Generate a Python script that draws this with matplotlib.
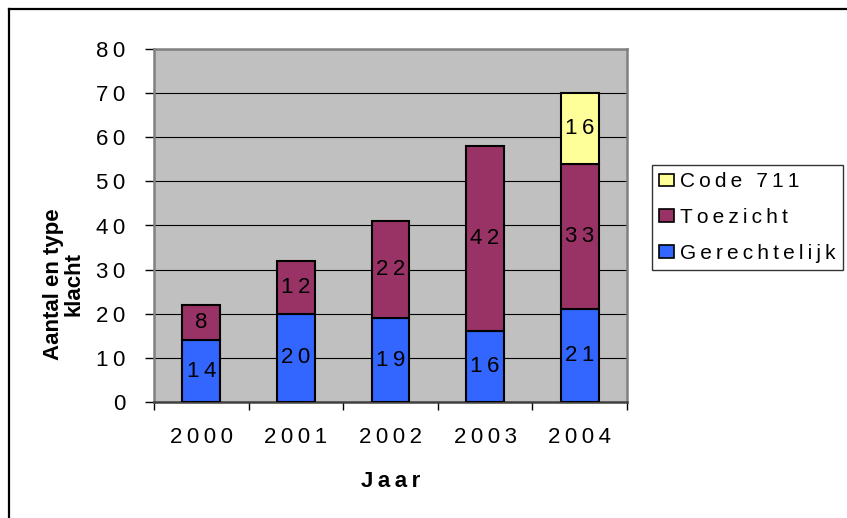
import matplotlib
matplotlib.use("Agg")
import matplotlib.pyplot as plt
from matplotlib.patches import Patch
from matplotlib.lines import Line2D
import numpy as np

plt.rcParams['font.family'] = ['Liberation Sans', 'DejaVu Sans']

years = ["2000", "2001", "2002", "2003", "2004"]
gerechtelijk = [14, 20, 19, 16, 21]
toezicht = [8, 12, 22, 42, 33]
code711 = [0, 0, 0, 0, 16]
series_names = ["Gerechtelijk", "Toezicht", "Code 711"]
colors = ["#3366FF", "#993366", "#FFFF99"]
yticks = [0, 10, 20, 30, 40, 50, 60, 70, 80]

THIN = "\u2009"

def spaced(s):
    return THIN.join(str(s))

W, H = 847, 518
fig = plt.figure(figsize=(W / 100, H / 100), dpi=100)
ax = fig.add_axes([154 / W, 1 - 402 / H, (627 - 154) / W, (402 - 49) / H])
ax.set_facecolor("#C0C0C0")

x = np.arange(len(years))
width = 0.4
fs = 16

bottom = np.zeros(len(years))
for vals, col in zip([gerechtelijk, toezicht, code711], colors):
    vals = np.array(vals, dtype=float)
    mask = vals > 0
    ax.bar(x[mask], vals[mask], width, bottom=bottom[mask], color=col,
           edgecolor="black", linewidth=1.5, zorder=3)
    for xi, v, b in zip(x[mask], vals[mask], bottom[mask]):
        ax.text(xi, b + v / 2, spaced(int(v)), ha="center", va="center",
                fontsize=fs, color="black", zorder=4)
    bottom = bottom + vals

ax.set_xlim(-0.5, len(years) - 0.5)
ax.set_ylim(0, 80)
ax.set_yticks(yticks)
ax.set_yticklabels([spaced(t) for t in yticks], fontsize=fs)
ax.set_xticks(x)
ax.set_xticklabels([spaced(y) for y in years], fontsize=fs)
ax.set_xticks(np.arange(-0.5, len(years), 1.0), minor=True)
ax.tick_params(axis="x", which="major", length=0, pad=18)
ax.tick_params(axis="x", which="minor", length=6, width=1, color="black", direction="out")
ax.tick_params(axis="y", which="major", length=6.5, width=1, color="black", direction="out", pad=14)

ax.yaxis.grid(True, color="black", linewidth=0.8, zorder=1)
ax.set_axisbelow(True)
for s in ax.spines.values():
    s.set_color("#808080")
    s.set_linewidth(1.8)
ax.spines["bottom"].set_color("#404040")

ax.set_xlabel(spaced("Jaar"), fontsize=fs, fontweight="bold")
ax.xaxis.set_label_coords(0.5, -0.195)
ax.set_ylabel("Aantal en type\nklacht", fontsize=fs, fontweight="bold", linespacing=1.0)
ax.yaxis.set_label_coords(-0.146, 0.334)

handles = [Patch(facecolor=colors[2], edgecolor="black", linewidth=1.2),
           Patch(facecolor=colors[1], edgecolor="black", linewidth=1.2),
           Patch(facecolor=colors[0], edgecolor="black", linewidth=1.2)]
labels = [spaced(series_names[2]), spaced(series_names[1]), spaced(series_names[0])]
leg = fig.legend(handles, labels, loc="upper left",
                 bbox_to_anchor=(652 / W, 1 - 165 / H), borderaxespad=0,
                 fontsize=15, frameon=True, fancybox=False, shadow=False,
                 handlelength=0.7, handleheight=0.55, handletextpad=0.3,
                 labelspacing=0.8, borderpad=0.35)
leg.get_frame().set_edgecolor("black")
leg.get_frame().set_linewidth(1.0)

# chart-area border (right and bottom edges lie outside the image)
fig.add_artist(Line2D([9 / W, 9 / W], [1 - 9 / H, -0.1], color="black", linewidth=1.6,
                      transform=fig.transFigure))
fig.add_artist(Line2D([9 / W, 1.1], [1 - 9 / H, 1 - 9 / H], color="black", linewidth=1.6,
                      transform=fig.transFigure))

fig.savefig("out.png", dpi=100)
